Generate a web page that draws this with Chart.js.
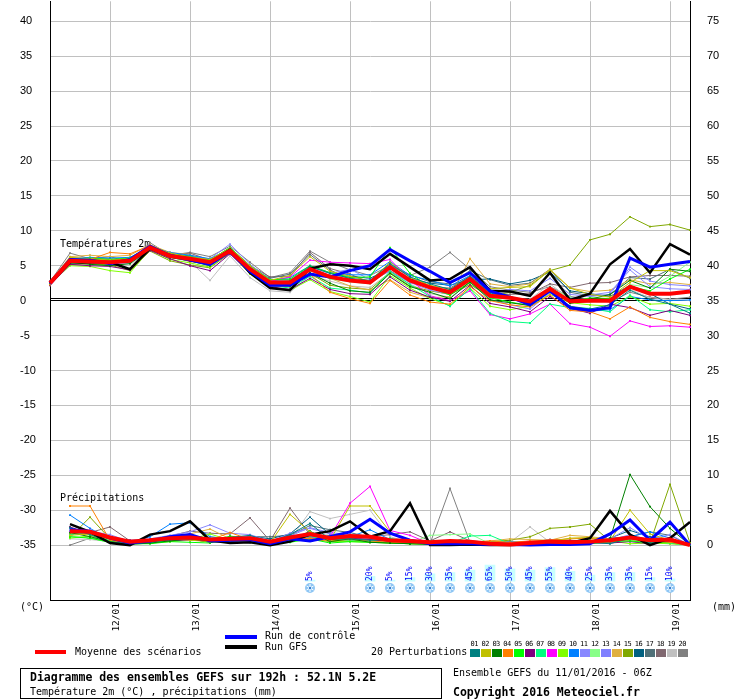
<!DOCTYPE html>
<html>
<head>
<meta charset="utf-8">
<title>Diagramme des ensembles GEFS</title>
<script src="https://cdn.jsdelivr.net/npm/chart.js@4.4.1/dist/chart.umd.min.js"></script>
<style>
  body { margin: 0; background: #fff; }
  #wrap { position: relative; width: 740px; height: 700px; font-family: "DejaVu Sans Mono", monospace; color: #000; overflow: hidden; }
  #wrap canvas { position: absolute; left: 0; top: 0; }
  .t { position: absolute; white-space: nowrap; font-size: 10px; line-height: 12px; }
  .b { font-weight: bold; font-size: 11.5px; line-height: 14px; }
  .bar { position: absolute; }
  .num { position: absolute; font-size: 7px; line-height: 8px; letter-spacing: -0.5px; }
  #box { position: absolute; left: 20px; top: 668px; width: 422px; height: 31px; border: 1px solid #000; box-sizing: border-box; }
</style>
</head>
<body>
<div id="wrap">
  <canvas id="gefs" width="740" height="700"></canvas>

  <div class="bar" style="left:35px;top:650px;width:31px;height:4px;background:#ff0000"></div>
  <div class="t" style="left:75px;top:646px">Moyenne des scénarios</div>
  <div class="bar" style="left:225px;top:635px;width:32px;height:4px;background:#0000ff"></div>
  <div class="bar" style="left:225px;top:645px;width:32px;height:4px;background:#000"></div>
  <div class="t" style="left:265px;top:630px">Run de contrôle</div>
  <div class="t" style="left:265px;top:641px">Run GFS</div>
  <div class="t" style="left:371px;top:646px">20 Perturbations</div>
  <div id="palette"></div>

  <div id="box"></div>
  <div class="t b" style="left:30px;top:670px">Diagramme des ensembles GEFS sur 192h : 52.1N 5.2E</div>
  <div class="t" style="left:30px;top:686px">Température 2m (°C) , précipitations (mm)</div>
  <div class="t" style="left:453px;top:667px">Ensemble GEFS du 11/01/2016 - 06Z</div>
  <div class="t b" style="left:453px;top:685px">Copyright 2016 Meteociel.fr</div>
</div>

<script>
// run of 11/01/2016 06Z, every 6 hours up to +192h
const times = [
  '11/01 06Z', '11/01 12Z', '11/01 18Z',
  '12/01 00Z', '12/01 06Z', '12/01 12Z', '12/01 18Z',
  '13/01 00Z', '13/01 06Z', '13/01 12Z', '13/01 18Z',
  '14/01 00Z', '14/01 06Z', '14/01 12Z', '14/01 18Z',
  '15/01 00Z', '15/01 06Z', '15/01 12Z', '15/01 18Z',
  '16/01 00Z', '16/01 06Z', '16/01 12Z', '16/01 18Z',
  '17/01 00Z', '17/01 06Z', '17/01 12Z', '17/01 18Z',
  '18/01 00Z', '18/01 06Z', '18/01 12Z', '18/01 18Z',
  '19/01 00Z', '19/01 06Z'
];

const tempTicks = [-35, -30, -25, -20, -15, -10, -5, 0, 5, 10, 15, 20, 25, 30, 35, 40];
const rainTicks = [0, 5, 10, 15, 20, 25, 30, 35, 40, 45, 50, 55, 60, 65, 70, 75];

// temperature 2m (°C)
const meanTemp = [2.5,5.7,5.6,5.5,5.7,7.6,6.4,6.0,5.5,7.1,4.5,2.6,2.6,4.5,3.4,2.9,2.6,4.8,2.9,1.9,1.2,3.1,0.7,0.4,-0.1,1.7,-0.1,0.0,0.0,2.0,1.0,1.0,1.3];
const ctrlTemp = [2.4,5.9,5.8,5.3,5.9,7.8,6.5,5.8,5.2,7.0,4.2,2.2,2.2,3.8,3.4,4.3,5.0,7.3,5.7,4.2,2.6,4.0,1.4,0.5,-0.6,1.4,-1.0,-1.4,-1.0,6.1,4.8,5.2,5.6];
const gfsTemp  = [2.5,5.5,5.5,5.5,4.5,7.5,6.3,6.0,5.3,7.3,4.0,1.8,1.5,4.6,5.2,5.0,4.5,6.7,4.8,2.9,3.1,4.8,1.4,1.3,0.7,4.0,0.1,1.0,5.2,7.4,4.0,8.1,6.6];

const pertTemp = [
  [2.6,5.8,5.9,5.6,5.8,7.7,6.6,6.1,5.6,7.3,4.6,2.7,2.8,4.9,3.9,3.2,2.9,5.3,3.4,2.4,1.6,3.5,1.1,0.5,-0.4,1.4,-0.8,-1.2,-0.6,1.5,0.2,-0.5,-1.8], // 01
  [2.4,6.2,6.0,5.8,6.0,7.9,6.8,6.2,5.9,7.5,5.0,2.9,3.6,6.3,4.2,3.5,2.8,5.5,3.3,2.2,1.6,3.4,1.7,1.9,2.0,4.4,1.8,0.9,0.5,2.6,4.3,4.3,3.3], // 02
  [2.5,5.5,5.2,5.0,5.3,7.4,6.2,5.7,5.0,7.0,4.3,2.4,2.1,4.0,2.5,1.4,1.2,3.9,2.0,1.2,0.3,2.7,0.1,-0.3,-0.7,1.9,-0.4,0.2,0.9,2.9,1.8,4.5,4.2], // 03
  [2.3,5.6,5.9,6.9,6.7,7.9,6.4,5.6,5.3,7.1,4.1,2.3,2.0,3.8,1.2,0.3,-0.4,2.9,0.8,-0.2,-0.5,2.0,0.0,-0.6,-0.9,0.8,-1.4,-1.6,-2.6,-0.9,-2.4,-3.0,-3.4], // 04
  [2.6,5.9,6.1,5.9,6.1,7.8,6.7,6.3,5.8,7.6,5.0,3.0,3.1,5.0,4.0,3.3,3.4,7.6,3.9,1.9,0.8,2.6,0.4,-0.2,-0.7,1.6,-0.2,0.4,0.3,2.0,1.4,3.1,4.5], // 05
  [2.2,5.2,5.0,4.9,4.4,7.2,6.0,5.0,4.3,6.7,4.0,2.0,1.6,3.2,1.6,1.0,0.9,3.4,1.5,0.5,-0.1,2.2,-0.4,-0.9,-1.6,0.6,-1.1,-1.8,-0.5,-1.0,-2.1,-1.4,-2.1], // 06
  [2.5,5.4,5.6,5.7,5.5,7.4,6.2,5.7,5.1,7.0,4.0,2.2,1.8,3.5,1.8,1.5,1.1,4.2,2.3,0.6,-0.8,1.7,-1.8,-3.0,-3.2,-0.5,-1.0,-1.1,-1.6,0.8,-1.3,-1.6,-1.3], // 07
  [2.7,6.1,5.8,5.6,5.5,7.5,6.5,6.1,5.6,7.2,4.7,2.8,3.4,5.8,5.5,5.4,5.3,5.9,3.0,0.7,0.0,1.4,-2.0,-2.6,-1.9,-0.5,-3.3,-3.8,-5.1,-2.9,-3.7,-3.6,-3.8], // 08
  [2.4,5.0,4.9,4.3,4.0,7.3,5.9,5.4,4.8,6.9,3.8,1.9,1.5,3.0,1.3,0.6,-0.2,3.6,1.8,0.3,-0.7,1.8,-0.8,-1.3,-0.8,0.9,-0.3,-0.6,-0.8,0.6,-0.5,-0.4,-0.8], // 09
  [2.5,6.0,6.2,6.1,6.2,7.7,6.9,6.5,6.0,7.4,4.9,2.9,3.3,5.0,4.0,3.7,3.7,5.6,3.6,2.9,2.1,3.6,1.2,0.4,-0.3,1.7,-1.2,-1.5,-1.3,0.6,0.1,0.0,0.1], // 10
  [2.6,5.7,5.5,5.4,5.8,7.6,6.6,6.3,6.0,8.1,5.2,3.0,3.0,4.8,3.9,4.5,3.0,4.2,2.6,1.5,0.9,2.9,0.2,-0.6,-1.2,1.1,0.3,0.8,1.2,4.4,2.0,1.7,1.6], // 11
  [2.3,5.3,5.7,5.6,5.6,7.5,6.3,5.9,5.3,7.1,4.4,2.5,2.4,4.3,3.1,2.7,2.4,4.6,2.9,1.7,1.0,2.7,0.6,0.2,0.0,1.8,0.5,-0.2,0.2,2.3,1.9,3.5,5.5], // 12
  [2.5,5.6,5.4,5.3,5.4,7.4,6.3,5.8,5.2,7.0,4.2,2.3,2.5,4.3,3.3,3.1,2.5,4.6,2.7,1.8,1.5,3.3,1.1,1.6,1.4,3.2,0.9,0.6,0.9,4.8,2.8,2.3,2.1], // 13
  [2.7,6.3,6.5,6.3,6.5,8.0,6.9,6.6,5.5,7.2,4.6,2.6,2.9,4.8,3.2,2.1,1.5,3.0,1.2,0.4,0.6,6.0,2.4,2.0,2.4,4.5,1.8,1.3,1.5,3.0,2.4,2.6,2.3], // 14
  [2.3,5.2,5.3,5.1,4.3,7.1,5.7,5.1,4.7,6.8,3.9,2.1,2.0,3.9,2.2,1.8,1.6,4.0,2.1,1.4,0.9,2.3,0.6,1.2,2.2,4.3,5.1,8.7,9.5,12.0,10.6,10.9,10.1], // 15
  [2.8,6.1,6.0,5.9,6.0,7.8,6.7,6.4,5.8,7.4,4.7,2.9,3.0,4.6,3.6,3.5,3.2,4.6,3.1,2.5,2.2,3.0,3.1,2.4,2.9,4.1,1.4,1.0,0.6,2.2,1.0,-0.5,-1.2], // 16
  [2.6,5.9,5.8,5.7,5.9,7.7,6.8,6.2,5.7,7.2,4.8,3.2,3.8,6.6,4.4,3.0,2.7,5.1,3.7,2.7,2.4,4.3,3.0,2.2,2.5,4.5,1.2,0.7,0.8,3.3,3.1,4.5,3.2], // 17
  [2.5,5.7,5.9,6.0,5.7,7.9,6.5,6.8,5.8,7.6,5.0,3.4,3.5,6.9,4.6,3.8,2.6,4.3,2.6,2.0,1.8,3.5,0.8,0.9,1.0,2.4,1.9,2.5,2.6,3.4,3.6,3.6,3.5], // 18
  [2.2,5.1,5.3,5.0,5.1,7.5,6.2,5.6,2.9,6.4,3.3,1.4,1.2,3.6,2.8,2.1,1.9,4.0,2.4,1.0,0.5,2.4,0.3,0.3,0.2,2.4,0.2,0.1,0.0,1.6,0.4,0.2,0.0], // 19
  [2.7,6.8,6.0,6.3,5.5,8.3,6.5,6.9,6.3,7.8,5.5,3.3,4.0,7.1,5.5,4.4,3.6,5.0,3.6,4.8,6.9,4.5,2.0,1.5,1.2,2.0,0.6,0.2,-0.2,1.2,0.5,0.2,0.5]  // 20
];

// precipitation over the previous 6h (mm)
const meanRain = [null,2.0,1.9,1.1,0.5,0.7,1.0,1.1,0.8,0.9,1.0,0.5,1.1,1.6,1.0,1.3,1.2,0.7,0.6,0.4,0.6,0.5,0.2,0.1,0.3,0.5,0.4,0.5,0.7,1.1,0.7,0.8,0.0];
const ctrlRain = [null,2.2,2.0,1.0,0.3,0.6,1.2,1.5,0.6,0.7,0.8,0.2,0.9,0.6,1.2,1.9,3.7,1.7,0.7,0.2,0.2,0.2,0.1,0.1,0.0,0.1,0.1,0.2,1.6,3.6,0.7,3.3,0.0];
const gfsRain  = [null,3.0,1.9,0.3,0.0,1.5,2.0,3.4,0.7,0.3,0.4,0.0,0.5,1.5,2.0,3.4,1.2,2.0,6.0,0.0,0.0,0.1,0.0,0.0,0.1,0.1,0.3,1.0,4.9,1.5,0.0,1.0,3.3];

const pertRain = [
  [null,2.5,1.5,0.4,0.2,0.4,0.8,0.9,0.6,1.1,1.4,0.5,1.5,3.1,0.8,0.9,0.7,0.8,0.4,0.3,0.3,0.2,0.2,0.1,0.2,0.4,0.3,0.4,0.2,1.0,0.3,0.7,0.0], // 01
  [null,1.4,1.6,0.8,0.3,0.5,0.9,0.7,0.5,0.6,0.5,0.3,4.4,1.9,0.7,5.6,5.6,1.9,0.5,0.2,0.3,0.1,0.0,0.1,0.2,0.5,1.0,1.1,0.6,5.0,1.6,0.7,0.0], // 02
  [null,1.8,1.2,0.5,0.1,0.3,0.6,0.9,0.4,0.5,0.4,0.1,0.6,2.0,0.5,0.9,0.4,0.3,0.2,0.1,0.1,0.1,0.0,0.0,0.0,0.1,0.2,0.3,0.9,10.1,5.5,2.4,0.0], // 03
  [null,5.6,5.6,0.7,0.2,0.5,1.0,1.3,0.7,1.8,0.8,0.3,0.7,1.0,0.6,0.8,0.6,0.4,0.3,0.3,0.2,0.4,0.6,0.4,0.6,0.7,0.9,1.0,0.5,1.0,0.6,0.4,0.0], // 04
  [null,1.2,1.0,0.4,0.2,0.2,0.5,0.4,0.3,1.3,0.9,0.2,0.4,0.9,0.3,0.5,0.4,0.3,0.2,0.2,0.2,0.3,0.3,0.1,0.1,0.3,0.1,0.2,0.5,0.6,0.3,0.4,0.0], // 05
  [null,2.6,1.6,0.9,0.7,0.8,0.6,0.8,0.5,0.6,0.5,0.2,0.5,1.4,0.9,1.0,0.8,0.5,0.3,0.3,0.2,0.2,0.1,0.1,0.2,0.5,0.7,0.3,0.3,0.5,0.2,0.6,0.0], // 06
  [null,1.5,1.8,0.6,0.3,0.4,0.7,0.9,0.8,1.2,0.9,0.4,1.0,1.2,0.8,0.7,0.6,1.0,0.4,0.6,0.3,1.3,1.4,0.2,0.1,0.2,0.3,0.6,0.4,0.9,0.5,0.3,0.0], // 07
  [null,1.9,2.1,1.0,0.4,0.6,0.8,0.7,0.6,0.5,0.7,0.3,0.6,1.1,1.2,6.0,8.4,2.1,1.4,0.2,0.2,0.1,0.1,0.2,0.6,0.4,0.5,0.4,0.8,1.3,0.6,0.5,0.0], // 08
  [null,1.0,1.3,0.6,0.2,0.3,0.5,0.8,1.6,0.7,1.1,0.3,0.9,1.7,0.6,0.5,0.4,0.3,0.2,0.1,0.1,0.1,0.2,0.1,0.2,0.3,0.4,0.7,0.6,0.2,0.3,0.2,0.0], // 09
  [null,4.3,2.4,0.8,0.3,1.2,3.0,3.2,1.2,0.9,0.8,0.4,1.4,1.3,1.1,1.2,2.2,0.8,0.6,0.3,0.4,0.3,0.4,0.5,0.4,0.5,0.3,0.4,0.6,1.2,1.9,1.0,0.0], // 10
  [null,2.3,2.0,1.5,0.5,0.9,1.4,1.9,2.9,1.7,1.5,0.6,1.3,2.5,1.8,1.5,1.0,0.6,0.5,0.3,0.5,0.6,0.3,0.2,0.4,0.7,0.5,0.4,0.9,2.5,0.8,1.5,0.0], // 11
  [null,1.3,1.0,0.4,0.3,0.3,0.6,1.0,1.2,0.8,0.9,0.2,0.8,1.8,0.8,0.7,0.5,0.4,0.3,1.4,1.5,1.6,0.2,0.1,0.1,0.2,0.3,0.5,0.7,0.8,0.4,0.3,0.0], // 12
  [null,2.0,1.7,1.2,0.4,0.7,1.1,1.2,0.9,1.0,1.3,0.5,1.7,2.4,1.6,1.1,0.8,0.5,0.4,0.3,0.3,0.4,0.3,0.1,0.3,0.6,0.4,0.5,0.7,1.5,0.7,1.0,0.0], // 13
  [null,1.7,1.5,0.6,0.3,0.5,1.0,1.6,2.3,0.9,0.8,0.4,0.9,1.2,1.0,0.8,0.7,0.5,0.3,0.2,0.3,0.4,0.6,0.9,0.8,0.7,1.4,1.2,0.9,0.6,0.5,0.3,0.0], // 14
  [null,1.1,4.0,0.9,0.3,0.4,0.7,0.8,0.5,0.6,0.5,0.2,0.6,0.9,0.5,0.6,0.5,0.3,0.2,0.2,0.2,0.3,0.5,0.7,1.2,2.4,2.6,3.0,0.6,0.8,0.3,8.7,0.3], // 15
  [null,2.4,1.5,1.1,0.4,0.6,0.9,1.0,0.7,0.8,1.3,0.9,1.6,4.0,1.5,1.2,1.0,0.6,0.4,0.2,0.2,0.3,0.2,0.1,0.3,0.5,0.4,0.5,1.0,2.1,1.2,0.8,0.0], // 16
  [null,2.1,1.8,0.9,0.5,0.6,0.8,1.3,0.9,1.0,1.2,1.2,1.4,2.8,2.2,1.8,1.1,0.7,0.6,0.4,0.4,0.5,0.3,0.2,0.4,0.6,0.5,0.6,1.0,1.2,1.9,1.4,0.0], // 17
  [null,1.6,1.8,2.6,0.6,0.8,1.3,2.0,1.7,1.6,3.9,0.6,5.3,1.5,1.4,1.0,1.2,1.5,1.9,0.6,1.9,0.6,0.4,0.3,0.4,0.8,0.7,0.5,0.7,1.0,0.5,0.6,0.0], // 18
  [null,0.9,0.8,0.5,0.2,0.3,0.5,0.7,0.9,0.6,0.7,0.3,0.8,4.8,3.8,4.4,5.0,1.2,0.4,0.2,0.3,0.6,0.4,0.4,2.6,0.4,0.3,0.5,0.8,1.0,0.3,0.2,0.0], // 19
  [null,0.0,1.0,0.6,0.3,0.4,0.6,0.9,0.5,0.8,0.6,0.3,0.7,1.1,0.9,0.8,0.6,0.4,0.3,0.2,8.1,0.4,0.3,0.2,0.3,0.4,0.5,0.4,0.6,0.8,0.4,0.3,0.0]  // 20
];

// snow probability (%)
const snowPct = [null,null,null,null,null,null,null,null,null,null,null,null,null,5,null,null,20,5,15,30,35,45,65,50,45,55,40,25,35,35,15,10,null];

const pertColors = ['#008080','#c0c000','#008000','#ff8000','#00ff00','#800080','#00ff80','#ff00ff','#80ff00','#0080ff',
                    '#8888ff','#88ff88','#8080ff','#e0b040','#80a800','#006080','#507078','#806870','#c0c0c0','#808080'];

// palette under the chart
var pal = document.getElementById('palette');
pertColors.forEach(function(c, i) {
  var x = 470 + i * 10.95;
  var n = document.createElement('div');
  n.className = 'num';
  n.style.left = (x + 0.5) + 'px';
  n.style.top = '640px';
  n.textContent = (i < 9 ? '0' : '') + (i + 1);
  pal.appendChild(n);
  var b = document.createElement('div');
  b.className = 'bar';
  b.style.cssText = 'left:' + x + 'px;top:649px;width:10px;height:8px;background:' + c;
  pal.appendChild(b);
});

function serie(data, color, width, axis, order, radius) {
  return {
    type: 'line',
    data: data,
    yAxisID: axis,
    order: order,
    borderColor: color,
    backgroundColor: color,
    borderWidth: width,
    pointRadius: radius,
    pointStyle: 'rect',
    pointBorderWidth: 0,
    pointHoverRadius: 0,
    tension: 0,
    fill: false
  };
}

var datasets = [];
datasets.push(serie(meanTemp, '#ff0000', 4, 'y', 1, 0));
datasets.push(serie(meanRain, '#ff0000', 4, 'y2', 1, 0));
datasets.push(serie(ctrlTemp, '#0000ff', 3, 'y', 2, 0));
datasets.push(serie(ctrlRain, '#0000ff', 3, 'y2', 2, 0));
datasets.push(serie(gfsTemp, '#000000', 2.5, 'y', 3, 0));
datasets.push(serie(gfsRain, '#000000', 2.5, 'y2', 3, 0));
for (var k = 0; k < 20; k++) {
  datasets.push(serie(pertTemp[k], pertColors[k], 1, 'y', 10 + k, 1.3));
  datasets.push(serie(pertRain[k], pertColors[k], 1, 'y2', 10 + k, 1.3));
}
var snowIndex = datasets.length;
datasets.push({
  type: 'bar',
  data: snowPct,
  yAxisID: 'ys',
  order: 50,
  backgroundColor: '#c8ffff',
  borderWidth: 0,
  barThickness: 10
});

function isMidnight(i) {
  return times[i] !== undefined && times[i].slice(-3) === '00Z';
}

function drawFlake(ctx, x, y) {
  ctx.save();
  ctx.fillStyle = '#8ec6f4';
  ctx.beginPath();
  ctx.arc(x, y, 5, 0, Math.PI * 2);
  ctx.fill();
  ctx.strokeStyle = '#ffffff';
  ctx.lineWidth = 1;
  for (var a = 0; a < 3; a++) {
    var ang = a * Math.PI / 3 + Math.PI / 2;
    ctx.beginPath();
    ctx.moveTo(x - Math.cos(ang) * 4, y - Math.sin(ang) * 4);
    ctx.lineTo(x + Math.cos(ang) * 4, y + Math.sin(ang) * 4);
    ctx.stroke();
  }
  ctx.fillStyle = '#3a7fd0';
  ctx.fillRect(x - 1, y - 1, 2, 2);
  ctx.restore();
}

const decor = {
  id: 'decor',
  beforeDatasetsDraw: function(chart) {
    var ctx = chart.ctx, a = chart.chartArea, s = chart.scales;
    var y0 = Math.round(s.y.getPixelForValue(0));
    ctx.save();
    ctx.strokeStyle = '#000';
    ctx.lineWidth = 1;
    ctx.beginPath();
    ctx.moveTo(a.left, y0 - 2.5);
    ctx.lineTo(a.right, y0 - 2.5);
    ctx.stroke();
    ctx.fillStyle = '#000';
    ctx.font = '10px "DejaVu Sans Mono"';
    ctx.textBaseline = 'middle';
    ctx.fillText('Températures 2m', a.left + 10, s.y.getPixelForValue(8.1));
    ctx.fillText('Précipitations', a.left + 10, s.y2.getPixelForValue(6.7));
    ctx.restore();
  },
  afterDatasetsDraw: function(chart) {
    var ctx = chart.ctx;
    var meta = chart.getDatasetMeta(snowIndex);
    ctx.save();
    meta.data.forEach(function(bar, i) {
      var v = snowPct[i];
      if (v === null) return;
      drawFlake(ctx, bar.x, chart.chartArea.bottom - 12);
      ctx.save();
      ctx.translate(bar.x, chart.chartArea.bottom - 19);
      ctx.rotate(-Math.PI / 2);
      ctx.fillStyle = '#0000ff';
      ctx.font = '8px "DejaVu Sans Mono"';
      ctx.textAlign = 'left';
      ctx.textBaseline = 'middle';
      ctx.fillText(v + '%', 0, 0);
      ctx.restore();
    });
    ctx.restore();
  },
  afterDraw: function(chart) {
    var ctx = chart.ctx, a = chart.chartArea;
    ctx.save();
    ctx.fillStyle = '#000';
    ctx.font = '10px "DejaVu Sans Mono"';
    ctx.textBaseline = 'middle';
    ctx.fillText('(°C)', 20, a.bottom + 7);
    ctx.fillText('(mm)', 712, a.bottom + 7);
    ctx.restore();
  }
};

new Chart(document.getElementById('gefs'), {
  data: { labels: times, datasets: datasets },
  options: {
    responsive: false,
    animation: false,
    layout: { padding: { left: 20, right: 0, top: 0, bottom: 0 } },
    plugins: { legend: { display: false }, tooltip: { enabled: false } },
    scales: {
      x: {
        type: 'category',
        offset: false,
        grid: {
          offset: false,
          color: function(c) { return isMidnight(c.index) ? '#c0c0c0' : 'rgba(0,0,0,0)'; },
          drawTicks: false
        },
        border: { color: '#000' },
        ticks: {
          autoSkip: false,
          minRotation: 90,
          maxRotation: 90,
          padding: 3,
          labelOffset: 7,
          color: '#000',
          font: { family: 'DejaVu Sans Mono', size: 9.5 },
          callback: function(v, i) { return isMidnight(i) ? times[i].slice(0, 5) : ''; }
        },
        afterFit: function(s) { s.height = 100; s.paddingLeft = 0; s.paddingRight = 0; }
      },
      y: {
        position: 'left',
        min: -300 / 7,
        max: 300 / 7,
        afterBuildTicks: function(s) { s.ticks = tempTicks.map(function(v) { return { value: v }; }); },
        grid: {
          color: function(c) { return c.tick && c.tick.value === 0 ? '#000' : '#c0c0c0'; },
          drawTicks: false
        },
        border: { color: '#000' },
        ticks: { crossAlign: 'far', color: '#000', font: { family: 'Liberation Sans', size: 11 } },
        afterFit: function(s) { s.width = 30; s.paddingTop = 0; s.paddingBottom = 0; }
      },
      y2: {
        position: 'right',
        min: -55 / 7,
        max: 545 / 7,
        afterBuildTicks: function(s) { s.ticks = rainTicks.map(function(v) { return { value: v }; }); },
        grid: { drawOnChartArea: false, drawTicks: false },
        border: { color: '#000' },
        ticks: { crossAlign: 'near', padding: 17, color: '#000', font: { family: 'Liberation Sans', size: 11 } },
        afterFit: function(s) { s.width = 50; s.paddingTop = 0; s.paddingBottom = 0; }
      },
      ys: { display: false, min: -75, max: 2325 }
    }
  },
  plugins: [decor]
});
</script>
</body>
</html>
